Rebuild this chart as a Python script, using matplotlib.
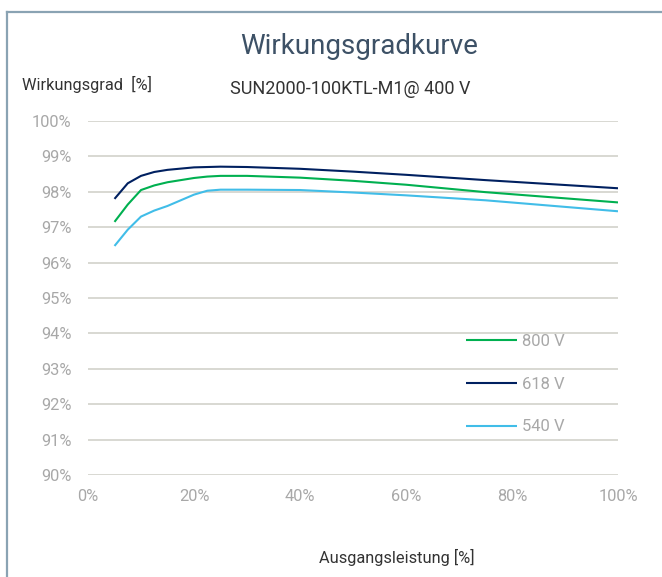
import matplotlib.pyplot as plt
from matplotlib.lines import Line2D

# output power [%]
load = [5, 7.5, 10, 12.5, 15, 20, 22.5, 25, 30, 40, 50, 60, 75, 100]

# efficiency [%] per DC voltage
eff_800 = [97.15, 97.64, 98.05, 98.18, 98.27, 98.39, 98.43, 98.45, 98.45, 98.40, 98.31, 98.20, 97.99, 97.70]
eff_618 = [97.80, 98.24, 98.45, 98.56, 98.62, 98.69, 98.70, 98.71, 98.70, 98.65, 98.57, 98.48, 98.33, 98.10]
eff_540 = [96.47, 96.93, 97.30, 97.47, 97.60, 97.92, 98.03, 98.06, 98.06, 98.05, 97.98, 97.90, 97.76, 97.45]

labels = ['800 V', '618 V', '540 V']
colors = ['#00b050', '#002060', '#41bde8']

x_ticks = [0, 20, 40, 60, 80, 100]
y_ticks = [90, 91, 92, 93, 94, 95, 96, 97, 98, 99, 100]

plt.rcParams['font.family'] = ['Roboto', 'DejaVu Sans']

fig = plt.figure(figsize=(6.62, 5.77), dpi=100)
ax = fig.add_axes([88 / 662, 1 - 475 / 577, 530 / 662, 354 / 577])

for y, lab, c in zip([eff_800, eff_618, eff_540], labels, colors):
    ax.plot(load, y, color=c, linewidth=1.5, label=lab, solid_capstyle='butt')

ax.set_xlim(0, 100)
ax.set_ylim(90, 100)
ax.set_xticks(x_ticks)
ax.set_xticklabels([f'{v}%' for v in x_ticks])
ax.set_yticks(y_ticks)
ax.set_yticklabels([f'{v}%' for v in y_ticks])
ax.tick_params(length=0, labelsize=11.8, labelcolor='#a8a8a8', pad=12)
ax.tick_params(axis='x', pad=10)
ax.yaxis.grid(True, color='#d8d8d2', linewidth=1.4)
ax.set_axisbelow(True)
for s in ax.spines.values():
    s.set_visible(False)

leg = ax.legend(loc='upper left', bbox_to_anchor=(0.713, 0.398), frameon=False,
                fontsize=12, handlelength=3.05, handletextpad=0.3,
                labelspacing=1.66, borderpad=0, borderaxespad=0)
for t in leg.get_texts():
    t.set_color('#a8a8a8')

fig.text(359 / 662, 1 - 46 / 577, 'Wirkungsgradkurve', ha='center', va='center',
         fontsize=20, color='#3d5166')
fig.text(22 / 662, 1 - 84 / 577, 'Wirkungsgrad  [%]', ha='left', va='center',
         fontsize=11.8, color='#333333')
fig.text(350 / 662, 1 - 89 / 577, 'SUN2000-100KTL-M1@ 400 V', ha='center', va='center',
         fontsize=13, color='#333333')
fig.text(397 / 662, 1 - 557 / 577, 'Ausgangsleistung [%]', ha='center', va='center',
         fontsize=11.8, color='#333333')

# frame around the chart
fig.add_artist(Line2D([7 / 662, 7 / 662], [0, 1 - 12 / 577], transform=fig.transFigure,
                      color='#8aa3b3', linewidth=1.6))
fig.add_artist(Line2D([7 / 662, 1], [1 - 12 / 577, 1 - 12 / 577], transform=fig.transFigure,
                      color='#8aa3b3', linewidth=1.6))

fig.savefig('out.png', dpi=100)
